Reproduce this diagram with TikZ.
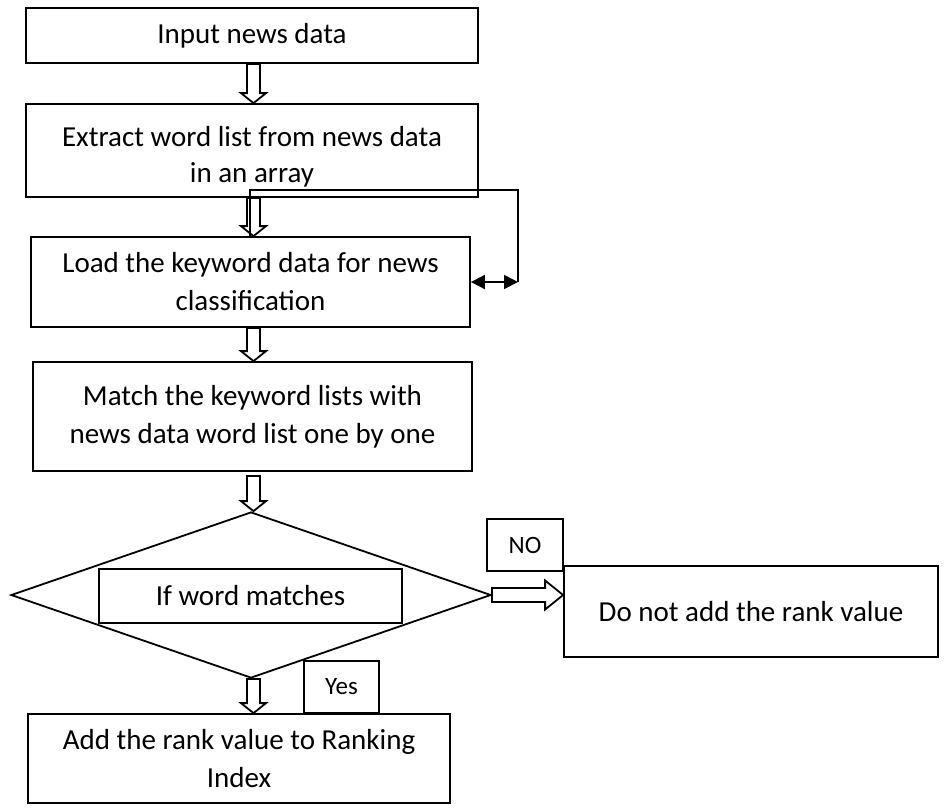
\documentclass[tikz,border=0pt]{standalone}
\usepackage{fontspec}
\setmainfont{Carlito}
\usetikzlibrary{shapes.geometric,calc,arrows.meta}

\tikzset{
  procbox/.style={draw, line width=0.9pt, align=center, inner sep=0pt,
    font=\fontsize{14.5}{19}\selectfont},
  tagbox/.style={draw, line width=0.9pt, inner sep=0pt,
    font=\fontsize{12.5}{14}\selectfont},
  % hollow block arrow going down
  blockdown/.style={line width=0.9pt, to path={let \p1=(\tikztostart), \p2=(\tikztotarget) in
    (\x1-3.25pt,\y1) -- (\x1+3.25pt,\y1) -- (\x1+3.25pt,\y2+5pt) -- (\x1+6.25pt,\y2+5pt)
    -- (\x1,\y2) -- (\x1-6.25pt,\y2+5pt) -- (\x1-3.25pt,\y2+5pt) -- cycle}},
  % hollow block arrow going right
  blockright/.style={line width=0.9pt, to path={let \p1=(\tikztostart), \p2=(\tikztotarget) in
    (\x1,\y1-3.5pt) -- (\x2-9pt,\y1-3.5pt) -- (\x2-9pt,\y1-7.25pt) -- (\x2,\y1)
    -- (\x2-9pt,\y1+7.25pt) -- (\x2-9pt,\y1+3.5pt) -- (\x1,\y1+3.5pt) -- cycle}}
}

\begin{document}
\begin{tikzpicture}[x=0.5pt, y=-0.5pt]
    \useasboundingbox (0,0) rectangle (946,810);
    \coordinate (axis) at (253.5,0);

    % main column
    \node[procbox, minimum width=226pt, minimum height=27.5pt] (inp) at (252,35.5) {Input news data};
    \node[procbox, minimum width=226pt, minimum height=46.5pt] (ext) at (252,150.5) {};
    \node[procbox, draw=none, font=\fontsize{14.5}{18}\selectfont] (extlbl) at (252,157)
        {Extract word list from news data\\in an array};
    \node[procbox, minimum width=219.5pt, minimum height=45pt] (load) at (250.5,282)
        {Load the keyword data for news\\classification};
    \node[procbox, minimum width=219.5pt, minimum height=54.5pt] (match) at (252.5,416.5)
        {Match the keyword lists with\\news data word list one by one};

    % decision
    \node[draw, line width=0.9pt, diamond, inner sep=0pt, minimum width=240pt, minimum height=83pt] (dec) at (251,595) {};
    \node[procbox, minimum width=151.5pt, minimum height=27pt] (cond) at (250.5,596) {If word matches};

    \node[procbox, minimum width=187pt, minimum height=45.5pt] (skip) at (751,611.5) {Do not add the rank value};
    \node[procbox, minimum width=211pt, minimum height=44.5pt] (rank) at (239,758.5)
        {Add the rank value to Ranking\\Index};

    % branch tags
    \node[tagbox, minimum width=38pt, minimum height=26pt] (no) at (525,545) {NO};
    \node[tagbox, minimum width=37.5pt, minimum height=26pt] (yes) at (341.5,687) {Yes};

    % block arrows
    \draw[blockdown] (inp.south -| axis) to (ext.north -| axis);
    \draw[blockdown] (ext.south -| axis) to (load.north -| axis);
    \draw[blockdown] (load.south -| axis) to (match.north -| axis);
    \draw[blockdown] ($(match.south -| axis)+(0,4)$) to (dec.north -| axis);
    \draw[blockdown] (dec.south -| axis) to (rank.north -| axis);
    \draw[blockright] (dec.east) to (skip.west);

    % feedback line
    \coordinate (corner) at (518,190);
    \coordinate (turn) at (518,282);
    \draw[line width=0.9pt] (load.north -| 250,0) |- (corner) -- (turn);
    \draw[line width=0.9pt, {Triangle[length=7pt,width=7pt]}-{Triangle[length=7pt,width=7pt]}] (load.east) -- (turn);
\end{tikzpicture}
\end{document}
